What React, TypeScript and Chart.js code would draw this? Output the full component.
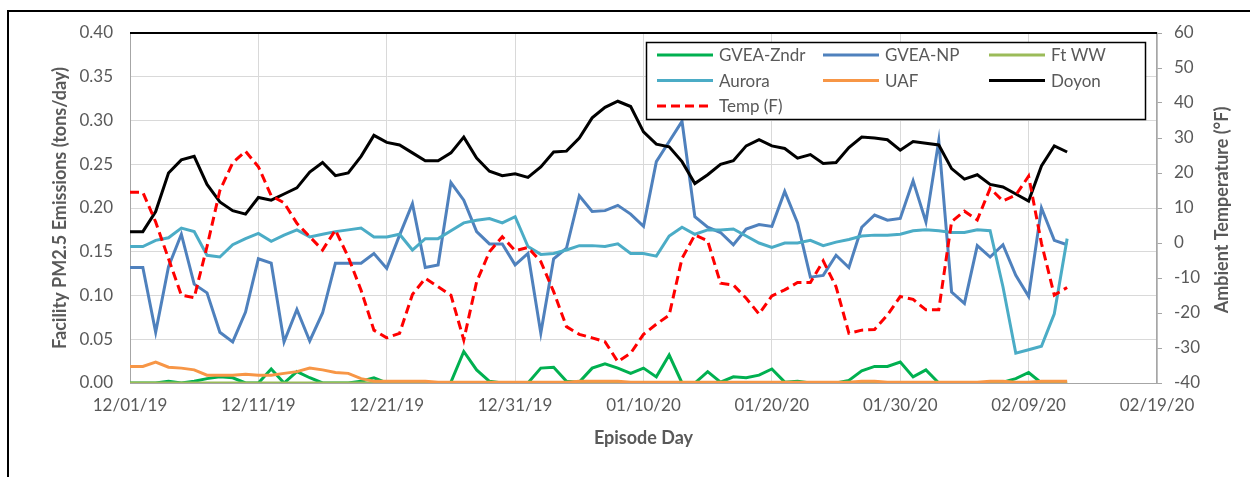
import React, { useEffect, useRef } from 'react';
import { Chart, registerables } from 'chart.js';

Chart.register(...registerables);

// ---- Data ----
const xTickLabels = ['12/01/19', '12/11/19', '12/21/19', '12/31/19', '01/10/20', '01/20/20', '01/30/20', '02/09/20', '02/19/20'];

const gveaZndr = [
  0, 0, 0, 0.002, 0, 0.002, 0.005, 0.007, 0.006, 0,
  0, 0.016, 0, 0.013, 0.006, 0, 0, 0, 0.002, 0.006,
  0, 0, 0, 0, 0, 0.001, 0.036, 0.015, 0.002, 0,
  0, 0, 0.017, 0.018, 0.002, 0.001, 0.017, 0.022, 0.017, 0.011,
  0.017, 0.007, 0.032, 0, 0, 0.013, 0.001, 0.007, 0.006, 0.009,
  0.016, 0.001, 0.002, 0, 0, 0, 0.003, 0.014, 0.019, 0.019,
  0.024, 0.007, 0.015, 0, 0, 0, 0, 0, 0.001, 0.005,
  0.012, 0, 0, 0,
];

const gveaNP = [
  0.132, 0.132, 0.058, 0.133, 0.170, 0.113, 0.103, 0.058, 0.047, 0.081,
  0.142, 0.137, 0.047, 0.084, 0.048, 0.080, 0.137, 0.137, 0.137, 0.148,
  0.131, 0.169, 0.205, 0.132, 0.135, 0.229, 0.209, 0.173, 0.159, 0.159,
  0.135, 0.148, 0.057, 0.142, 0.154, 0.214, 0.196, 0.197, 0.203, 0.193,
  0.179, 0.253, 0.276, 0.299, 0.190, 0.178, 0.172, 0.158, 0.176, 0.181,
  0.179, 0.219, 0.183, 0.121, 0.123, 0.146, 0.132, 0.178, 0.192, 0.186,
  0.188, 0.231, 0.184, 0.277, 0.104, 0.091, 0.157, 0.144, 0.158, 0.123,
  0.099, 0.200, 0.163, 0.158,
];

const ftWW = [
  0, 0, 0, 0, 0, 0, 0, 0, 0, 0,
  0, 0, 0, 0, 0, 0, 0, 0, 0, 0,
  0, 0, 0, 0, 0, 0, 0, 0, 0, 0,
  0, 0, 0, 0, 0, 0, 0, 0, 0, 0,
  0, 0, 0, 0, 0, 0, 0, 0, 0, 0,
  0, 0, 0, 0, 0, 0, 0, 0, 0, 0,
  0, 0, 0, 0, 0, 0, 0, 0, 0, 0,
  0, 0, 0, 0,
];

const aurora = [
  0.156, 0.156, 0.163, 0.166, 0.177, 0.173, 0.146, 0.144, 0.158, 0.165,
  0.171, 0.162, 0.169, 0.175, 0.167, 0.170, 0.173, 0.175, 0.177, 0.167,
  0.167, 0.170, 0.152, 0.165, 0.165, 0.174, 0.183, 0.186, 0.188, 0.183,
  0.190, 0.156, 0.147, 0.148, 0.152, 0.157, 0.157, 0.156, 0.159, 0.148,
  0.148, 0.145, 0.168, 0.178, 0.170, 0.175, 0.175, 0.176, 0.168, 0.160,
  0.155, 0.160, 0.160, 0.163, 0.157, 0.161, 0.164, 0.168, 0.169, 0.169,
  0.170, 0.174, 0.175, 0.174, 0.172, 0.172, 0.175, 0.174, 0.110, 0.034,
  0.038, 0.042, 0.079, 0.165,
];

const uaf = [
  0.019, 0.019, 0.024, 0.018, 0.017, 0.015, 0.009, 0.009, 0.009, 0.010,
  0.009, 0.009, 0.011, 0.013, 0.017, 0.015, 0.012, 0.011, 0.005, 0.002,
  0.002, 0.002, 0.002, 0.002, 0.001, 0.001, 0.001, 0.001, 0.001, 0.001,
  0.001, 0.001, 0.001, 0.001, 0.001, 0.002, 0.002, 0.002, 0.002, 0.001,
  0.001, 0.001, 0.001, 0.001, 0.001, 0.001, 0.001, 0.001, 0.001, 0.001,
  0.001, 0.001, 0.001, 0.001, 0.001, 0.001, 0.001, 0.002, 0.002, 0.001,
  0.001, 0.001, 0.001, 0.001, 0.001, 0.001, 0.001, 0.002, 0.002, 0.001,
  0.001, 0.002, 0.002, 0.002,
];

const doyon = [
  0.173, 0.173, 0.196, 0.240, 0.255, 0.259, 0.227, 0.207, 0.197, 0.193,
  0.212, 0.209, 0.216, 0.223, 0.241, 0.252, 0.237, 0.240, 0.259, 0.283,
  0.275, 0.272, 0.263, 0.254, 0.254, 0.263, 0.281, 0.257, 0.242, 0.237,
  0.239, 0.235, 0.247, 0.264, 0.265, 0.280, 0.303, 0.315, 0.322, 0.316,
  0.287, 0.273, 0.270, 0.253, 0.228, 0.238, 0.250, 0.254, 0.271, 0.278,
  0.271, 0.268, 0.257, 0.261, 0.251, 0.252, 0.269, 0.281, 0.280, 0.278,
  0.266, 0.276, 0.274, 0.272, 0.245, 0.233, 0.238, 0.227, 0.224, 0.216,
  0.208, 0.248, 0.271, 0.264,
];

const tempF = [
  14.5, 14.5, 6, -4.5, -14.9, -15.6, -1, 15, 22.9, 26.2,
  21.8, 13.5, 11.5, 5.6, 1.8, -2, 3.7, -4, -13.5, -24.9,
  -27.1, -25.8, -14.7, -10.1, -12.5, -14.9, -27.7, -11.1, -2.5, 1.8,
  -2.2, -1.3, -5.3, -13.9, -23.9, -26.1, -27.1, -28.2, -33.9, -31.5,
  -26.1, -23.2, -20.6, -4.4, 2.3, 0.6, -11.5, -12, -15.8, -20.3,
  -15.1, -13.4, -11.3, -11.3, -5.1, -12.5, -25.8, -24.9, -24.7, -20.6,
  -15.3, -16.1, -19.1, -19.1, 6.1, 9.1, 6.6, 15.6, 12, 13.7,
  19.1, -0.1, -14.9, -12.7,
];

const seriesNames = ['GVEA-Zndr', 'GVEA-NP', 'Ft WW', 'Aurora', 'UAF', 'Doyon', 'Temp (F)'];
const seriesColors = ['#00B050', '#4F81BD', '#9BBB59', '#4BACC6', '#F79646', '#000000', '#FF0000'];
const seriesValues = [gveaZndr, gveaNP, ftWW, aurora, uaf, doyon, tempF];

const xTitle = 'Episode Day';
const yTitle = 'Facility PM2.5 Emissions (tons/day)';
const y1Title = 'Ambient Temperature (°F)';

const TEXT = '#595959';
const FONT = 'Lato, "Open Sans", sans-serif';

const overlayPlugin = {
  id: 'overlay',
  afterDraw(chart: any) {
    const { ctx, chartArea: a } = chart;
    ctx.save();
    // top border of plot
    ctx.strokeStyle = '#000';
    ctx.lineWidth = 2;
    ctx.beginPath();
    ctx.moveTo(a.left, a.top);
    ctx.lineTo(a.right, a.top);
    ctx.stroke();

    // axis titles
    ctx.fillStyle = TEXT;
    ctx.font = `bold 18px ${FONT}`;
    ctx.textAlign = 'center';
    ctx.textBaseline = 'middle';
    ctx.fillText(xTitle, (a.left + a.right) / 2, 438);
    ctx.save();
    ctx.translate(60, (a.top + a.bottom) / 2);
    ctx.rotate(-Math.PI / 2);
    ctx.fillText(yTitle, 0, 0);
    ctx.restore();
    ctx.save();
    ctx.translate(1222, (a.top + a.bottom) / 2 + 2);
    ctx.rotate(-Math.PI / 2);
    ctx.fillText(y1Title, 0, 0);
    ctx.restore();

    // legend
    const box = { x: 646, y: 42, w: 499, h: 77 };
    ctx.fillStyle = '#fff';
    ctx.fillRect(box.x, box.y, box.w, box.h);
    ctx.strokeStyle = '#000';
    ctx.lineWidth = 1.5;
    ctx.strokeRect(box.x + 0.5, box.y + 0.5, box.w, box.h);
    const cols = [657, 823, 989];
    const rows = [55, 80.5, 106];
    ctx.font = `17px ${FONT}`;
    ctx.textAlign = 'left';
    ctx.textBaseline = 'middle';
    chart.data.datasets.forEach((ds: any, i: number) => {
      const cx = cols[i % 3];
      const cy = rows[Math.floor(i / 3)];
      ctx.strokeStyle = ds.borderColor;
      ctx.lineWidth = 3;
      ctx.setLineDash(ds.borderDash || []);
      ctx.beginPath();
      ctx.moveTo(cx, cy);
      ctx.lineTo(cx + 56, cy);
      ctx.stroke();
      ctx.setLineDash([]);
      ctx.fillStyle = TEXT;
      ctx.fillText(ds.label, cx + 62, cy + 1);
    });
    ctx.restore();
  },
};

export default function App() {
  const ref = useRef<HTMLCanvasElement | null>(null);

  useEffect(() => {
    if (!ref.current) return;
    const datasets = seriesNames.map((name, i) => ({
      label: name,
      data: seriesValues[i].map((v, d) => ({ x: d, y: v })),
      borderColor: seriesColors[i],
      backgroundColor: seriesColors[i],
      borderWidth: 3,
      borderDash: name === 'Temp (F)' ? [9, 5] : undefined,
      pointRadius: 0,
      tension: 0,
      fill: false,
      yAxisID: name === 'Temp (F)' ? 'y1' : 'y',
      order: seriesNames.length - 1 - i,
    }));

    const chart = new Chart(ref.current, {
      type: 'line',
      data: { datasets },
      options: {
        animation: false,
        responsive: false,
        devicePixelRatio: 1,
        layout: { padding: { top: 33, left: 0, right: 0, bottom: 0 } },
        plugins: { legend: { display: false }, tooltip: { enabled: false } },
        scales: {
          x: {
            type: 'linear',
            min: 0,
            max: 80,
            afterFit: (s: any) => { s.height = 94; },
            ticks: {
              stepSize: 10,
              color: TEXT,
              font: { family: FONT, size: 17 },
              padding: 12,
              maxRotation: 0,
              callback: (v: any) => xTickLabels[Math.round(Number(v) / 10)] ?? '',
            },
            grid: { color: '#D9D9D9', lineWidth: 1, drawTicks: false },
            border: { display: true, color: '#A6A6A6', width: 1 },
          },
          y: {
            position: 'left',
            min: 0,
            max: 0.4,
            afterFit: (s: any) => { s.width = 130; },
            ticks: {
              stepSize: 0.05,
              color: TEXT,
              font: { family: FONT, size: 17 },
              padding: 17,
              callback: (v: any) => Number(v).toFixed(2),
            },
            grid: { color: '#D9D9D9', lineWidth: 1, drawTicks: false },
            border: { display: true, color: '#A6A6A6', width: 1 },
          },
          y1: {
            position: 'right',
            min: -40,
            max: 60,
            afterFit: (s: any) => { s.width = 93; },
            ticks: {
              stepSize: 10,
              color: TEXT,
              font: { family: FONT, size: 17 },
              padding: 12,
            },
            grid: { drawOnChartArea: false, drawTicks: true, tickLength: 5, color: '#A6A6A6' },
            border: { display: true, color: '#A6A6A6', width: 1.5 },
          },
        },
      },
      plugins: [overlayPlugin],
    });
    return () => chart.destroy();
  }, []);

  return (
    <>
      <div
        style={{
          position: 'fixed',
          left: 7,
          top: 10,
          width: 1243,
          height: 467,
          borderLeft: '2px solid #000',
          borderTop: '2px solid #000',
          boxSizing: 'border-box',
        }}
      />
      <div style={{ position: 'fixed', left: 0, top: 0, width: 1250, height: 477 }}>
        <canvas ref={ref} width={1250} height={477} style={{ width: 1250, height: 477, display: 'block' }} />
      </div>
    </>
  );
}
